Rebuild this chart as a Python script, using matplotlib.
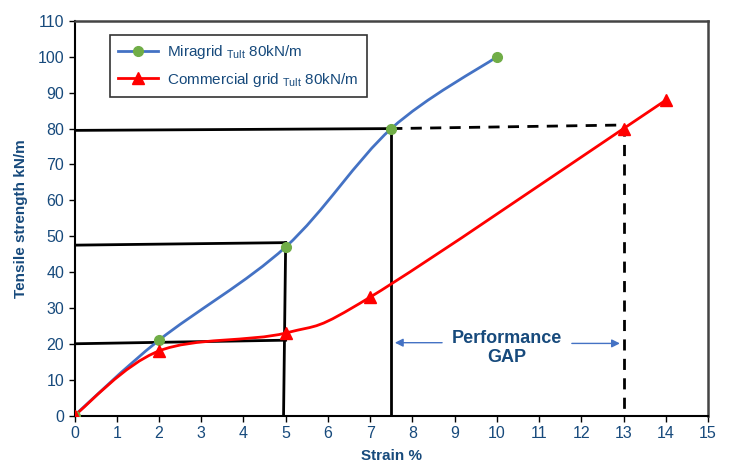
import matplotlib
matplotlib.use("Agg")
import matplotlib.pyplot as plt
from matplotlib.path import Path
from matplotlib.patches import PathPatch
from matplotlib.lines import Line2D

# Data
mira_strain = [0, 2, 5, 7.5, 10]
mira_load = [0, 21, 47, 80, 100]
comm_strain = [0, 2, 5, 7, 13, 14]
comm_load = [0, 18, 23, 33, 80, 88]

# guide lines (x list, y list, style)
guides = [
    ([0, 7.5], [79.5, 80], '-'),
    ([7.5, 7.5], [80, 0], '-'),
    ([7.5, 13], [80, 81], '--'),
    ([13, 13], [81, 0], '--'),
    ([0, 5], [47.5, 48.2], '-'),
    ([5, 4.95], [48.2, 0], '-'),
    ([0, 5], [20, 21], '-'),
]

navy = '#174A7C'
plt.rcParams['font.family'] = ['Liberation Sans', 'DejaVu Sans']
plt.rcParams['mathtext.fontset'] = 'custom'
plt.rcParams['mathtext.rm'] = 'Liberation Sans'


def smooth_path(xs, ys):
    # Excel style smoothed line: cubic bezier through each point
    pts = list(zip(xs, ys))
    verts = [pts[0]]
    codes = [Path.MOVETO]
    n = len(pts)
    for i in range(n - 1):
        p0 = pts[i - 1] if i > 0 else pts[i]
        p1 = pts[i]
        p2 = pts[i + 1]
        p3 = pts[i + 2] if i + 2 < n else pts[i + 1]
        c1 = (p1[0] + (p2[0] - p0[0]) / 6, p1[1] + (p2[1] - p0[1]) / 6)
        c2 = (p2[0] - (p3[0] - p1[0]) / 6, p2[1] - (p3[1] - p1[1]) / 6)
        verts += [c1, c2, p2]
        codes += [Path.CURVE4] * 3
    return Path(verts, codes)


fig = plt.figure(figsize=(7.32, 4.63), dpi=100)
ax = fig.add_axes([74.5 / 732, 1 - 415.5 / 463, (708 - 74.5) / 732, (415.5 - 21) / 463])

for xs, ys, ls in guides:
    ax.plot(xs, ys, color='black', lw=2, ls=ls, dashes=(4, 3) if ls == '--' else (None, None), zorder=2)

ax.add_patch(PathPatch(smooth_path(mira_strain, mira_load), fill=False, edgecolor='#4472C4', lw=2, zorder=3))
ax.add_patch(PathPatch(smooth_path(comm_strain, comm_load), fill=False, edgecolor='#FF0000', lw=2, zorder=3))
ax.plot(mira_strain, mira_load, 'o', color='#70AD47', ms=7, zorder=4)
ax.plot(comm_strain, comm_load, '^', color='#FF0000', ms=8, zorder=4)

ax.set_xlim(0, 15)
ax.set_ylim(0, 110)
ax.set_xticks(range(0, 16))
ax.set_yticks(range(0, 111, 10))
ax.tick_params(labelsize=11.5, labelcolor=navy, length=4, width=1)
ax.set_xlabel('Strain %', fontsize=11, fontweight='bold', color=navy, labelpad=6)
ax.set_ylabel('Tensile strength kN/m', fontsize=11, fontweight='bold', color=navy, labelpad=7)
for s in ['left', 'bottom']:
    ax.spines[s].set_linewidth(1.5)
for s in ['top', 'right']:
    ax.spines[s].set_linewidth(1.8)
    ax.spines[s].set_color('#444444')

# Performance GAP annotation
ax.text(10.24, 18.8, 'Performance\nGAP', ha='center', va='center', fontsize=13,
        fontweight='bold', color=navy, linespacing=1.2)
ax.annotate('', xy=(7.52, 20.3), xytext=(8.77, 20.3),
            arrowprops=dict(arrowstyle='-|>', color='#4472C4', lw=1, mutation_scale=12))
ax.annotate('', xy=(12.98, 20.1), xytext=(11.71, 20.1),
            arrowprops=dict(arrowstyle='-|>', color='#4472C4', lw=1, mutation_scale=12))

handles = [
    Line2D([], [], color='#4472C4', lw=2, marker='o', mfc='#70AD47', mec='#70AD47', ms=7),
    Line2D([], [], color='#FF0000', lw=2, marker='^', mfc='#FF0000', mec='#FF0000', ms=8),
]
labels = ['Miragrid $_{\\mathrm{Tult}}$ 80kN/m', 'Commercial grid $_{\\mathrm{Tult}}$ 80kN/m']
leg = ax.legend(handles, labels, loc='upper left', bbox_to_anchor=(110 / 732, 1 - 35 / 463),
                bbox_transform=fig.transFigure, fancybox=False, edgecolor='black',
                fontsize=11, handlelength=2.6, borderpad=0.55, labelspacing=0.6,
                borderaxespad=0, handletextpad=0.6)
leg.get_frame().set_linewidth(1.2)
for t in leg.get_texts():
    t.set_color(navy)

fig.savefig('out.png', dpi=100)
